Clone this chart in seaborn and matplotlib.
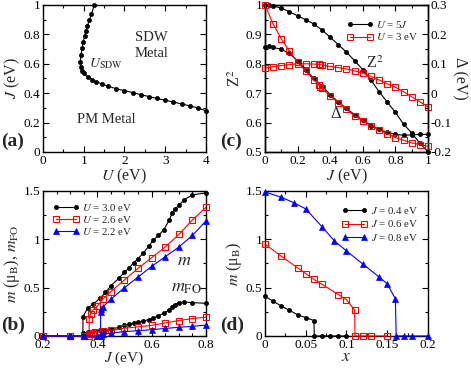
import numpy as np
import pandas as pd
import seaborn as sns
import matplotlib.pyplot as plt
from matplotlib.ticker import MultipleLocator, FuncFormatter

# (a) U_SDW phase boundary
U_a = [1.26, 1.19, 1.14, 1.09, 1.055, 1.02, 0.99, 0.96, 0.93, 0.92, 0.925, 0.95,
       1.0, 1.1, 1.2, 1.3, 1.45, 1.6, 1.8, 2.0, 2.2, 2.4, 2.6, 2.8, 3.0, 3.2,
       3.4, 3.6, 3.8, 4.0]
J_a = [1.0, 0.94, 0.90, 0.857, 0.825, 0.79, 0.75, 0.705, 0.66, 0.614, 0.58, 0.553,
       0.535, 0.51, 0.493, 0.478, 0.462, 0.447, 0.43, 0.417, 0.404, 0.39, 0.377,
       0.364, 0.352, 0.34, 0.327, 0.314, 0.3, 0.28]

# (b) m and m_FO vs J
J_b30 = [0.2, 0.3, 0.347, 0.347, 0.365, 0.385, 0.41, 0.43, 0.45, 0.48, 0.5, 0.515,
         0.535, 0.55, 0.57, 0.59, 0.605, 0.625, 0.645, 0.665, 0.675, 0.685, 0.70,
         0.72, 0.75, 0.8]
m_b30 = [0, 0, 0, 0.2, 0.29, 0.33, 0.39, 0.45, 0.52, 0.6, 0.66, 0.7, 0.76, 0.8,
         0.86, 0.93, 0.99, 1.04, 1.1, 1.2, 1.27, 1.31, 1.35, 1.41, 1.46, 1.48]
mfo_b30 = [0, 0, 0, 0.03, 0.04, 0.05, 0.058, 0.063, 0.07, 0.09, 0.11, 0.12, 0.135,
           0.145, 0.155, 0.17, 0.183, 0.21, 0.235, 0.27, 0.3, 0.325, 0.345, 0.35,
           0.345, 0.338]
J_b26 = [0.2, 0.3, 0.35, 0.37, 0.37, 0.375, 0.385, 0.4, 0.42, 0.45, 0.5, 0.55, 0.6,
         0.65, 0.7, 0.75, 0.8]
m_b26 = [0, 0, 0, 0, 0.18, 0.23, 0.27, 0.31, 0.38, 0.46, 0.58, 0.70, 0.81, 0.92,
         1.05, 1.2, 1.33]
mfo_b26 = [0, 0, 0, 0, 0.02, 0.025, 0.03, 0.04, 0.05, 0.06, 0.08, 0.095, 0.11,
           0.135, 0.16, 0.18, 0.195]
J_b22 = [0.2, 0.3, 0.35, 0.4, 0.412, 0.412, 0.415, 0.42, 0.45, 0.5, 0.55, 0.6, 0.65,
         0.7, 0.75, 0.8]
m_b22 = [0, 0, 0, 0, 0, 0.25, 0.28, 0.3, 0.38, 0.5, 0.61, 0.72, 0.82, 0.92, 1.04, 1.19]
mfo_b22 = [0, 0, 0, 0, 0, 0.02, 0.022, 0.025, 0.03, 0.045, 0.055, 0.065, 0.078, 0.09,
           0.1, 0.113]

# (c) Z^2 (left axis) and Delta (right axis, eV)
J_c5 = [0, 0.025, 0.05, 0.1, 0.15, 0.2, 0.25, 0.3, 0.35, 0.4, 0.45, 0.5, 0.55, 0.6,
        0.65, 0.7, 0.75, 0.8, 0.85, 0.9, 0.95, 1.0]
Z2_c5 = [1.0, 0.999, 0.997, 0.989, 0.977, 0.963, 0.95, 0.935, 0.915, 0.89, 0.865,
         0.84, 0.81, 0.78, 0.745, 0.705, 0.67, 0.635, 0.595, 0.565, 0.53, 0.5]
D_c5 = [0.158, 0.159, 0.156, 0.149, 0.135, 0.11, 0.08, 0.05, 0.025, -0.005, -0.03,
        -0.052, -0.073, -0.092, -0.11, -0.123, -0.133, -0.14, -0.143, -0.142, -0.14,
        -0.14]
J_c3 = [0, 0.05, 0.1, 0.15, 0.2, 0.25, 0.3, 0.33, 0.34, 0.35, 0.4, 0.45, 0.5, 0.55,
        0.6, 0.65, 0.7, 0.75, 0.8, 0.85, 0.9, 0.95, 1.0]
Z2_c3 = [0.785, 0.79, 0.794, 0.797, 0.8, 0.8, 0.799, 0.798, 0.797, 0.796, 0.791,
         0.787, 0.782, 0.776, 0.768, 0.757, 0.745, 0.732, 0.72, 0.705, 0.688, 0.671,
         0.653]
D_c3 = [0.3, 0.235, 0.185, 0.143, 0.106, 0.075, 0.045, 0.028, 0.022, 0.016, -0.01,
        -0.032, -0.055, -0.077, -0.094, -0.111, -0.124, -0.138, -0.151, -0.16,
        -0.169, -0.175, -0.181]

# (d) m vs doping x
x_d04 = [0, 0.01, 0.02, 0.03, 0.04, 0.05, 0.06, 0.0605, 0.07, 0.08, 0.09, 0.1]
m_d04 = [0.41, 0.36, 0.31, 0.265, 0.22, 0.19, 0.16, 0, 0, 0, 0, 0]
x_d06 = [0, 0.02, 0.04, 0.05, 0.06, 0.07, 0.09, 0.1, 0.11, 0.1105, 0.12, 0.13, 0.15]
m_d06 = [0.95, 0.825, 0.705, 0.645, 0.585, 0.535, 0.428, 0.375, 0.27, 0, 0, 0, 0]
x_d08 = [0, 0.02, 0.035, 0.05, 0.07, 0.085, 0.1, 0.12, 0.14, 0.15, 0.16, 0.161,
         0.17, 0.18, 0.2]
m_d08 = [1.49, 1.435, 1.38, 1.315, 1.13, 0.985, 0.88, 0.745, 0.61, 0.54, 0.385, 0,
         0, 0, 0]

sns.set_style("ticks")
plt.rcParams["font.family"] = ["Liberation Serif", "DejaVu Serif"]
plt.rcParams["mathtext.fontset"] = "stix"
plt.rcParams["xtick.direction"] = "in"
plt.rcParams["ytick.direction"] = "in"
plt.rcParams["axes.linewidth"] = 1.0
plt.rcParams["axes.edgecolor"] = "black"

TICK = 9.5
LAB = 11.5
LEG = 7.8

# marker styles per colour
MK = {"black": ("o", 3.0, True), "red": ("s", 3.8, False), "blue": ("^", 4.2, True)}


def fmt(v, pos):
    s = "%g" % round(v, 4)
    return "0" if s in ("-0", "0") else s


def style(ax, xmaj, xmin, ymaj, ymin, right=True):
    ax.xaxis.set_major_locator(MultipleLocator(xmaj))
    ax.xaxis.set_minor_locator(MultipleLocator(xmin))
    ax.yaxis.set_major_locator(MultipleLocator(ymaj))
    ax.yaxis.set_minor_locator(MultipleLocator(ymin))
    ax.xaxis.set_major_formatter(FuncFormatter(fmt))
    ax.yaxis.set_major_formatter(FuncFormatter(fmt))
    ax.tick_params(which="both", top=True, right=right, direction="in",
                   labelsize=TICK, pad=2, colors="black")
    ax.tick_params(which="major", length=4, width=0.8)
    ax.tick_params(which="minor", length=2, width=0.8)
    for s in ax.spines.values():
        s.set_visible(True)
        s.set_color("black")


def curve(ax, x, y, color, label=None):
    marker, ms, filled = MK[color]
    sns.lineplot(x=x, y=y, ax=ax, sort=False, estimator=None, color=color,
                 marker=marker, markersize=ms, markeredgecolor=color,
                 markerfacecolor=color if filled else "none",
                 markeredgewidth=0.8 if not filled else 0.5, linewidth=0.8,
                 label=label, clip_on=False, legend=False, zorder=3)


def legend(ax, handles=None, labels=None, **kw):
    if handles is None:
        handles, labels = ax.get_legend_handles_labels()
    ax.legend(handles, labels, frameon=False, fontsize=LEG, numpoints=2,
              handlelength=2.4, handletextpad=0.3, borderaxespad=0.2, **kw)


fig = plt.figure(figsize=(4.71, 3.68), dpi=100)
ax_a = fig.add_axes([0.0913, 0.587, 0.346, 0.3995])
ax_b = fig.add_axes([0.0913, 0.087, 0.346, 0.394])
ax_c = fig.add_axes([0.5626, 0.587, 0.346, 0.3995])
ax_d = fig.add_axes([0.5626, 0.087, 0.346, 0.394])

# ---- (a)
curve(ax_a, U_a, J_a, "black")
ax_a.set_xlim(0, 4)
ax_a.set_ylim(0, 1)
style(ax_a, 1, 0.5, 0.2, 0.1)
ax_a.set_xlabel("$U$ (eV)", fontsize=LAB, labelpad=0)
ax_a.set_ylabel("$J$ (eV)", fontsize=LAB, labelpad=1)
ax_a.text(2.67, 0.78, "SDW", fontsize=10.5, ha="center", va="center")
ax_a.text(2.67, 0.67, "Metal", fontsize=10.5, ha="center", va="center")
ax_a.text(1.12, 0.6, r"$U_{\rm SDW}$", fontsize=10, ha="left", va="center")
ax_a.text(1.55, 0.22, "PM Metal", fontsize=10.5, ha="center", va="center")

# ---- (b)
curve(ax_b, J_b30, m_b30, "black", label="$U$ = 3.0 eV")
curve(ax_b, J_b26, m_b26, "red", label="$U$ = 2.6 eV")
curve(ax_b, J_b22, m_b22, "blue", label="$U$ = 2.2 eV")
curve(ax_b, J_b30, mfo_b30, "black")
curve(ax_b, J_b26, mfo_b26, "red")
curve(ax_b, J_b22, mfo_b22, "blue")
ax_b.set_xlim(0.2, 0.8)
ax_b.set_ylim(0, 1.5)
style(ax_b, 0.2, 0.05, 0.5, 0.25)
ax_b.set_xlabel("$J$ (eV)", fontsize=LAB - 0.5, labelpad=-1)
ax_b.set_ylabel(r"$m$ (μ$_{\rm B}$), $m_{\rm FO}$", fontsize=LAB, labelpad=1)
ax_b.text(0.695, 0.78, "$m$", fontsize=13, ha="left", va="center")
ax_b.text(0.672, 0.5, r"$m_{\rm FO}$", fontsize=13, ha="left", va="center")
legend(ax_b, loc="upper left", bbox_to_anchor=(0.02, 0.97), labelspacing=0.1)

# ---- (c)
ax_c2 = ax_c.twinx()
curve(ax_c, J_c5, Z2_c5, "black", label="$U$ = 5$J$")
curve(ax_c, J_c3, Z2_c3, "red", label="$U$ = 3 eV")
curve(ax_c2, J_c5, D_c5, "black")
curve(ax_c2, J_c3, D_c3, "red")
ax_c.set_xlim(0, 1)
ax_c.set_ylim(0.5, 1.0)
ax_c2.set_ylim(-0.2, 0.3)
style(ax_c, 0.2, 0.1, 0.1, 0.05, right=False)
ax_c2.yaxis.set_major_locator(MultipleLocator(0.1))
ax_c2.yaxis.set_minor_locator(MultipleLocator(0.05))
ax_c2.yaxis.set_major_formatter(FuncFormatter(fmt))
ax_c2.tick_params(which="both", direction="in", labelsize=TICK, pad=2,
                  left=False, right=True, colors="black")
ax_c2.tick_params(which="major", length=4, width=0.8)
ax_c2.tick_params(which="minor", length=2, width=0.8)
ax_c.set_xlabel("$J$ (eV)", fontsize=LAB, labelpad=0)
ax_c.set_ylabel("Z$^2$", fontsize=LAB, labelpad=1)
ax_c2.set_ylabel("Δ (eV)", fontsize=LAB, rotation=270, labelpad=11)
ax_c.text(0.62, 0.8, "Z$^2$", fontsize=11.5, ha="left", va="center")
ax_c.text(0.4, 0.63, "Δ", fontsize=12, ha="left", va="center")
h, l = ax_c.get_legend_handles_labels()
legend(ax_c2, h, l, loc="upper right", bbox_to_anchor=(0.98, 0.95),
       labelspacing=0.15)

# ---- (d)
curve(ax_d, x_d04, m_d04, "black", label="$J$ = 0.4 eV")
curve(ax_d, x_d06, m_d06, "red", label="$J$ = 0.6 eV")
curve(ax_d, x_d08, m_d08, "blue", label="$J$ = 0.8 eV")
ax_d.set_xlim(0, 0.2)
ax_d.set_ylim(0, 1.5)
style(ax_d, 0.05, 0.025, 0.5, 0.25)
ax_d.set_xlabel("$x$", fontsize=LAB + 1, labelpad=-1)
ax_d.set_ylabel(r"$m$ (μ$_{\rm B}$)", fontsize=LAB, labelpad=1)
legend(ax_d, loc="upper right", bbox_to_anchor=(0.98, 0.95), labelspacing=0.25)

for lab, x, y in [("(a)", 0.003, 0.615), ("(b)", 0.003, 0.117),
                  ("(c)", 0.468, 0.615), ("(d)", 0.468, 0.117)]:
    fig.text(x, y, lab, fontsize=14, fontweight="bold", ha="left", va="center")

fig.savefig("out.png", dpi=100)
